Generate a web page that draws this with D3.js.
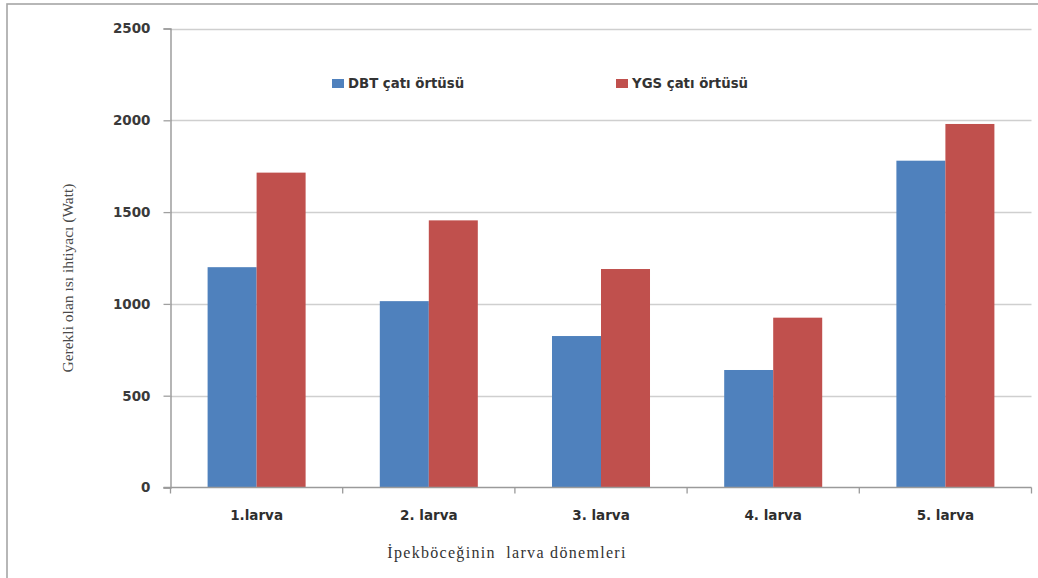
<!DOCTYPE html>
<html>
<head>
<meta charset="utf-8">
<script src="https://cdn.jsdelivr.net/npm/d3@7/dist/d3.min.js"></script>
<style>
  html, body { margin: 0; padding: 0; background: #fff; }
  svg { display: block; }
</style>
</head>
<body>
<svg id="chart" width="1038" height="578"></svg>
<script>
// Larval stages of the silkworm and the heat demand for two roof covers
const categories = ["1.larva", "2. larva", "3. larva", "4. larva", "5. larva"];
const seriesNames = ["DBT çatı örtüsü", "YGS çatı örtüsü"];
const dbtValues = [1200, 1015, 825, 640, 1780];
const ygsValues = [1715, 1455, 1190, 925, 1980];
const yTicks = [0, 500, 1000, 1500, 2000, 2500];
const colors = ["#4F81BD", "#C0504D"];

const svg = d3.select("#chart");

// outer frame
svg.append("rect")
  .attr("x", 7).attr("y", 4)
  .attr("width", 1060).attr("height", 620)
  .attr("fill", "none")
  .attr("stroke", "#a6a6a6")
  .attr("stroke-width", 1.6);

const plot = { left: 170.5, right: 1031.5, top: 28.5, bottom: 487.5 };

const y = d3.scaleLinear().domain([0, 2500]).range([plot.bottom, plot.top]);
const x0 = d3.scaleBand().domain(categories).range([plot.left, plot.right])
  .paddingInner(0).paddingOuter(0);
const x1 = d3.scaleBand().domain(seriesNames).range([0, x0.bandwidth()])
  .paddingInner(0).paddingOuter(0.757);

// gridlines
svg.append("g").selectAll("line").data(yTicks.filter(d => d > 0)).join("line")
  .attr("x1", plot.left).attr("x2", plot.right)
  .attr("y1", d => Math.round(y(d)) + 0.5).attr("y2", d => Math.round(y(d)) + 0.5)
  .attr("stroke", "#cfcfcf").attr("stroke-width", 1.6);

// y axis
const yAxis = svg.append("g")
  .attr("transform", `translate(${plot.left},0)`)
  .call(d3.axisLeft(y).tickValues(yTicks).tickSize(7).tickPadding(13).tickFormat(d3.format("d")));
yAxis.select(".domain").attr("stroke", "#8f8f8f").attr("stroke-width", 1.3);
yAxis.selectAll(".tick line").attr("stroke", "#a0a0a0").attr("stroke-width", 1.3);
yAxis.selectAll(".tick text")
  .attr("font-family", "DejaVu Sans, sans-serif")
  .attr("font-weight", "bold")
  .attr("font-size", 13.5)
  .attr("fill", "#3a3a3a");

// bars
const rows = categories.map((c, i) => ({ cat: c, vals: [dbtValues[i], ygsValues[i]] }));
const groups = svg.append("g").selectAll("g").data(rows).join("g")
  .attr("transform", d => `translate(${x0(d.cat)},0)`);
groups.selectAll("rect")
  .data(d => d.vals.map((v, j) => ({ name: seriesNames[j], v, j })))
  .join("rect")
  .attr("x", d => x1(d.name))
  .attr("width", x1.bandwidth())
  .attr("y", d => y(d.v))
  .attr("height", d => y(0) - y(d.v))
  .attr("fill", d => colors[d.j]);

// x axis line and category boundary ticks
svg.append("line")
  .attr("x1", plot.left - 7).attr("x2", plot.right)
  .attr("y1", plot.bottom).attr("y2", plot.bottom)
  .attr("stroke", "#9a9a9a").attr("stroke-width", 1.4);
const bounds = categories.map(c => x0(c)).concat([plot.right]);
svg.append("g").selectAll("line").data(bounds).join("line")
  .attr("x1", d => d).attr("x2", d => d)
  .attr("y1", plot.bottom).attr("y2", plot.bottom + 6)
  .attr("stroke", "#9a9a9a").attr("stroke-width", 1.3);

const xAxis = svg.append("g")
  .attr("transform", `translate(0,${plot.bottom})`)
  .call(d3.axisBottom(x0).tickSize(0).tickPadding(23));
xAxis.select(".domain").remove();
xAxis.selectAll(".tick text")
  .attr("font-family", "DejaVu Sans, sans-serif")
  .attr("font-weight", "bold")
  .attr("font-size", 13.5)
  .attr("fill", "#2e2e2e");

// legend
const legendPos = [{ x: 332, tx: 348 }, { x: 616, tx: 632 }];
const legend = svg.append("g").selectAll("g").data(seriesNames).join("g");
legend.append("rect")
  .attr("x", (d, i) => legendPos[i].x).attr("y", 79)
  .attr("width", 12).attr("height", 9)
  .attr("fill", (d, i) => colors[i]);
legend.append("text")
  .attr("x", (d, i) => legendPos[i].tx).attr("y", 88)
  .attr("font-family", "DejaVu Sans, sans-serif")
  .attr("font-weight", "bold")
  .attr("font-size", 13.3)
  .attr("fill", "#333")
  .text(d => d);

// axis titles
svg.append("text")
  .attr("transform", "translate(73,278) rotate(-90)")
  .attr("text-anchor", "middle")
  .attr("font-family", "Liberation Serif, serif")
  .attr("font-size", 15.5)
  .attr("fill", "#4a4a4a")
  .text("Gerekli olan ısı ihtiyacı (Watt)");

svg.append("text")
  .attr("x", 507).attr("y", 558)
  .attr("text-anchor", "middle")
  .attr("font-family", "Liberation Serif, serif")
  .attr("font-size", 16)
  .attr("letter-spacing", 1.3)
  .attr("fill", "#333")
  .style("white-space", "pre")
  .text("İpekböceğinin  larva dönemleri");
</script>
</body>
</html>
